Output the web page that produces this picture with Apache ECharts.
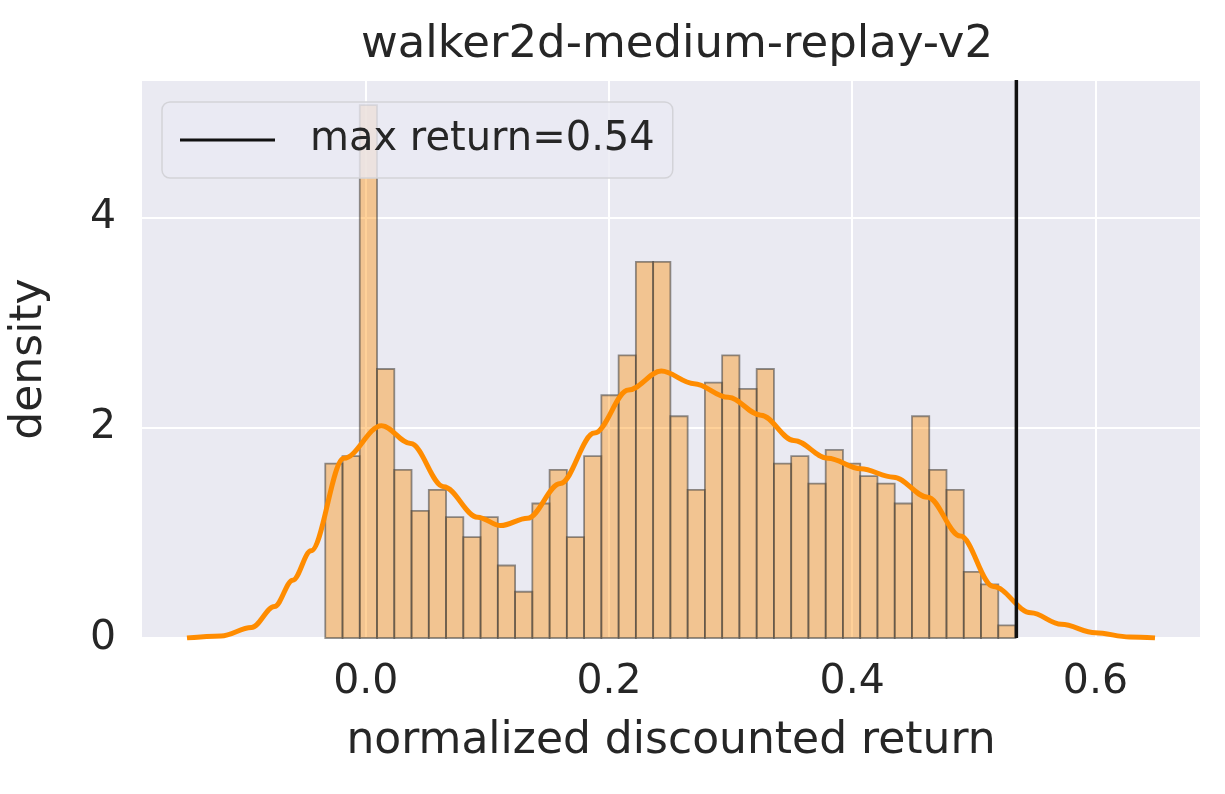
<!DOCTYPE html>
<html><head><meta charset="utf-8">
<script src="https://cdn.jsdelivr.net/npm/echarts@6/dist/echarts.min.js"></script>
<style>html,body{margin:0;padding:0;background:#fff}#c{width:1225px;height:794px}</style>
</head><body><div id="c"></div>
<script>
const binStart = -0.0333;
const binWidth = 0.01419;
const densities = [1.66,1.73,5.07,2.56,1.60,1.21,1.41,1.15,0.96,1.15,0.69,0.44,1.28,1.60,0.96,1.73,2.31,2.69,3.58,3.58,
  2.11,1.41,2.43,2.69,2.37,2.56,1.66,1.73,1.47,1.79,1.66,1.54,1.47,1.28,2.11,1.60,1.41,0.63,0.51,0.12];
const kdeX = [-0.147,-0.119,-0.094,-0.075,-0.06,-0.045,-0.018,0.013,0.037,0.064,0.092,0.111,0.133,0.160,0.188,0.216,0.243,0.270,0.298,0.325,0.352,0.380,0.407,0.434,0.462,0.489,0.516,0.547,0.572,0.600,0.628,0.649];
const kdeY = [0,0.02,0.10,0.30,0.55,0.83,1.71,2.02,1.85,1.44,1.15,1.07,1.14,1.47,1.95,2.36,2.54,2.42,2.29,2.12,1.88,1.71,1.61,1.53,1.34,0.97,0.49,0.24,0.13,0.05,0.01,0];
const maxReturn = 0.535;
const xTicks = [0.0,0.2,0.4,0.6];
const yTicks = [0,2,4];

const bars = densities.map((d,i)=>[binStart+i*binWidth, binStart+(i+1)*binWidth, d]);
const font = 'DejaVu Sans';
const chart = echarts.init(document.getElementById('c'));
chart.setOption({
  backgroundColor:'#ffffff',
  title:{text:'walker2d-medium-replay-v2',left:672,top:18,textAlign:'center',textStyle:{fontFamily:font,fontSize:45,fontWeight:'normal',color:'#262626'}},
  grid:{left:140,right:25,top:80,bottom:156,show:true,backgroundColor:'#eaeaf2',borderWidth:0},
  legend:{left:162,top:102,padding:[18,18,18,18],itemGap:10,itemWidth:95,itemHeight:3,
    icon:'rect',backgroundColor:'rgba(234,234,242,0.8)',borderColor:'#d3d3d8',borderWidth:1.5,borderRadius:8,
    textStyle:{fontFamily:font,fontSize:40,color:'#262626',padding:[0,0,0,30]},data:['max return=0.54']},
  xAxis:{type:'value',min:-0.184,max:0.686,name:'normalized discounted return',nameLocation:'middle',nameGap:82,
    nameTextStyle:{fontFamily:font,fontSize:44,color:'#262626'},
    axisLine:{show:false},axisTick:{show:false,customValues:xTicks},
    axisLabel:{customValues:xTicks,fontFamily:font,fontSize:41,color:'#262626',margin:24,formatter:v=>v.toFixed(1)},
    splitLine:{show:true,lineStyle:{color:'#ffffff',width:2}}},
  yAxis:{type:'value',min:0,max:5.31,interval:2,name:'density',nameLocation:'middle',nameGap:90,
    nameTextStyle:{fontFamily:font,fontSize:44,color:'#262626'},
    axisLine:{show:false},axisTick:{show:false},
    axisLabel:{fontFamily:font,fontSize:41,color:'#262626',margin:26,customValues:yTicks},
    splitLine:{show:true,lineStyle:{color:'#ffffff',width:2}}},
  series:[
    {type:'custom',name:'hist',data:bars,z:2,
     renderItem:(p,api)=>{const a=api.coord([api.value(0),api.value(2)]);const b=api.coord([api.value(1),0]);
       return {type:'rect',shape:{x:a[0],y:a[1],width:b[0]-a[0],height:b[1]-a[1]},
         style:{fill:'rgba(255,140,0,0.4)',stroke:'rgba(60,60,60,0.55)',lineWidth:1.8}};},
     encode:{x:[0,1],y:2}},
    {type:'line',name:'kde',data:kdeX.map((x,i)=>[x,kdeY[i]]),smooth:0.35,smoothMonotone:'x',showSymbol:false,z:3,
     lineStyle:{color:'#ff8c00',width:5}},
    {type:'line',name:'max return=0.54',data:[[maxReturn,0],[maxReturn,5.31]],showSymbol:false,z:4,
     color:'#111111',lineStyle:{color:'#111111',width:3.5}}
  ]
});
</script></body></html>
